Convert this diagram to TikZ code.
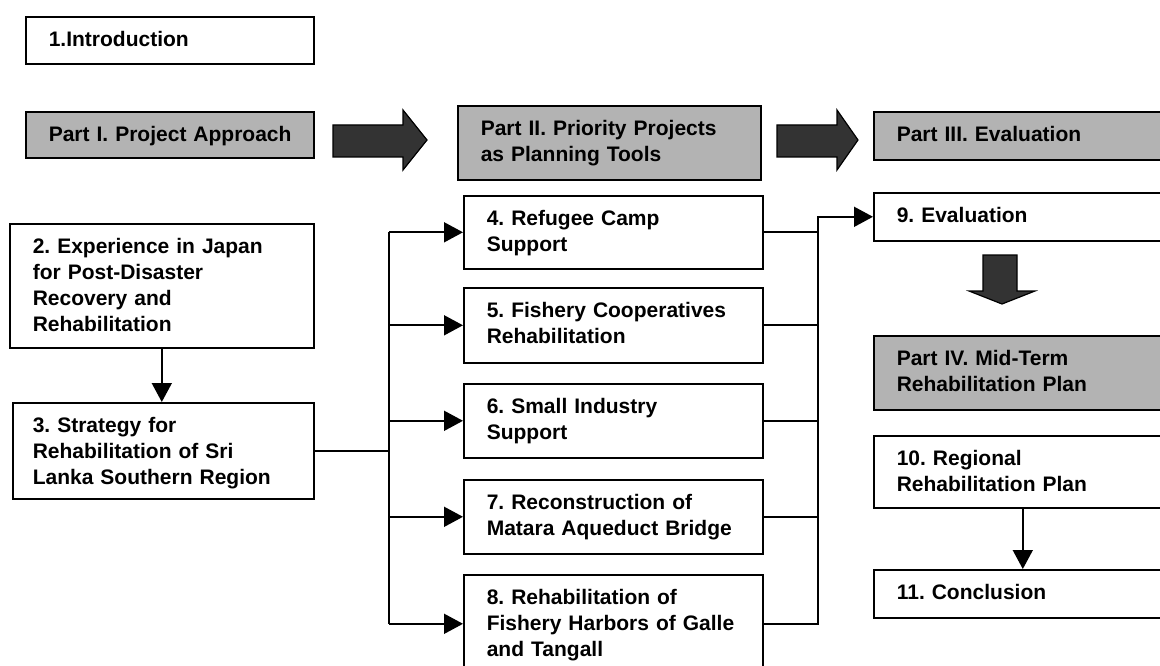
\documentclass[tikz,border=0pt]{standalone}
\usepackage{fontspec}
\setmainfont{Liberation Sans}
\frenchspacing
\usetikzlibrary{arrows.meta}
\definecolor{partgray}{HTML}{B3B3B3}
\definecolor{arrowgray}{HTML}{333333}
\tikzset{
  boxsize/.code n args={3}{%
    \pgfmathsetmacro\boxtw{#1-2*#3}%
    \pgfmathsetmacro\boxtd{#2-30}%
    \edef\boxopts{minimum width=#1pt, inner xsep=#3pt, text width=\boxtw pt, text depth=\boxtd pt}%
    \expandafter\tikzset\expandafter{\boxopts}},
  plainbox/.style={draw, line width=1.6pt, anchor=north west, align=left, inner ysep=0pt,
    text height=30pt, font=\fontsize{21}{26}\selectfont\bfseries},
  partbox/.style={plainbox, fill=partgray},
  link/.style={line width=1.7pt},
  flow/.style={line width=1.7pt, -{Triangle[length=19pt,width=20pt]}},
  bigarrow/.style={draw, line width=1.2pt, fill=arrowgray}
}
\begin{document}
\begin{tikzpicture}[x=1pt,y=-1pt]
\useasboundingbox (0,0) rectangle (1160,666);
\node[plainbox, boxsize={288}{47}{23}] (intro) at (25,16) {1.Introduction};
\node[partbox, boxsize={288}{46}{23}] (p1) at (25,111) {\mbox{Part I. Project Approach}};
\node[partbox, boxsize={303}{74}{23}] (p2) at (457,105) {Part II. Priority Projects\\as Planning Tools};
\node[partbox, boxsize={298}{48}{23}] (p3) at (873,111) {Part III. Evaluation};
\node[plainbox, boxsize={298}{48}{23}] (e9) at (873,192) {9. Evaluation};
\node[partbox, boxsize={298}{74}{23}] (p4) at (873,335) {Part IV. Mid-Term\\Rehabilitation Plan};
\node[plainbox, boxsize={298}{72}{23}] (r10) at (873,435) {10. Regional\\Rehabilitation Plan};
\node[plainbox, boxsize={298}{48}{23}] (c11) at (873,569) {11. Conclusion};
\node[plainbox, boxsize={304}{124}{23}] (b2) at (9,223) {2. Experience in Japan\\for Post-Disaster\\Recovery and\\Rehabilitation};
\node[plainbox, boxsize={301}{96}{20}] (b3) at (12,402) {3. Strategy for\\Rehabilitation of Sri\\Lanka Southern Region};
\node[plainbox, boxsize={299}{73}{23}] (b4) at (463,195) {4. Refugee Camp\\Support};
\node[plainbox, boxsize={299}{75}{23}] (b5) at (463,287) {5. Fishery Cooperatives\\Rehabilitation};
\node[plainbox, boxsize={299}{74}{23}] (b6) at (463,383) {6. Small Industry\\Support};
\node[plainbox, boxsize={299}{74}{23}] (b7) at (463,479) {7. Reconstruction of\\Matara Aqueduct Bridge};
\node[plainbox, boxsize={299}{98}{23}] (b8) at (463,574) {8. Rehabilitation of\\Fishery Harbors of Galle\\and Tangall};
\coordinate (lbus) at (389,0);
\coordinate (rbus) at (818,0);
\draw[bigarrow] (333,125) -- (403,125) -- (403,110) -- (427,140) -- (403,170) -- (403,157) -- (333,157) -- cycle;
\draw[bigarrow] (777,125) -- (837,125) -- (837,110) -- (858,140) -- (837,170) -- (837,157) -- (777,157) -- cycle;
\draw[bigarrow] (983,255) -- (1017,255) -- (1017,291) -- (1035,291) -- (1002,304) -- (969,291) -- (983,291) -- cycle;
\draw[flow] (b2.south) -- (b2.south |- b3.north);
\draw[link] (b3.east) -- (b3.east -| lbus);
\draw[link] (b4.west -| lbus) -- (b8.west -| lbus);
\foreach \n in {b4,b5,b6,b7,b8}
  \draw[flow] (\n.west -| lbus) -- (\n.west);
\foreach \n in {b4,b5,b6,b7}
  \draw[link] (\n.east) -- (\n.east -| rbus);
\draw[flow] (b8.east) -- (b8.east -| rbus) -- (rbus |- e9.west) -- (e9.west);
\draw[flow] (r10.south) -- (c11.north);
\end{tikzpicture}
\end{document}
